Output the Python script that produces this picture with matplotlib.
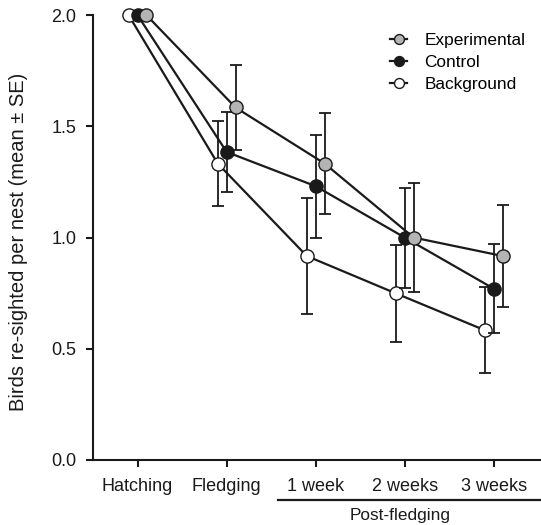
import numpy as np
import matplotlib
matplotlib.use("Agg")
import matplotlib.pyplot as plt

plt.rcParams["font.family"] = ["Liberation Sans", "DejaVu Sans"]

# ---------------------------------------------------------------------------
# Data
# ---------------------------------------------------------------------------
stages = ["Hatching", "Fledging", "1 week", "2 weeks", "3 weeks"]

exp_mean = [2.0, 1.585, 1.333, 1.0, 0.917]
exp_se   = [0.0, 0.19, 0.226, 0.246, 0.229]

ctrl_mean = [2.0, 1.385, 1.231, 1.0, 0.77]
ctrl_se   = [0.0, 0.18, 0.231, 0.225, 0.20]

bg_mean = [2.0, 1.333, 0.917, 0.749, 0.583]
bg_se   = [0.0, 0.19, 0.26, 0.217, 0.194]

ink = "#1a1a1a"
x = np.arange(len(stages))

fig = plt.figure(figsize=(5.41, 5.25), dpi=100)
ax = fig.add_axes([0.172, 0.124, 0.828, 0.847])

series = [
    ("Background",   bg_mean,   bg_se,   -0.1, "white"),
    ("Control",      ctrl_mean, ctrl_se,  0.0, ink),
    ("Experimental", exp_mean,  exp_se,   0.1, "#b4b4b4"),
]
handles = {}
for z, (name, m, se, off, fc) in enumerate(series):
    xs = x + off
    se = np.array(se)
    ax.errorbar(xs[1:], m[1:], yerr=se[1:], fmt="none", ecolor=ink,
                elinewidth=1.3, capsize=4.5, capthick=1.3, zorder=2 + z,
                clip_on=False)
    h, = ax.plot(xs, m, "-o", color=ink, lw=1.6, ms=9.5, mfc=fc, mec=ink,
                 mew=1.0, label=name, zorder=3 + z, clip_on=False)
    handles[name] = h

ax.set_xlim(-0.5, 4.53)
ax.set_ylim(0, 2.0)
ax.set_yticks([0, 0.5, 1.0, 1.5, 2.0])
ax.set_yticklabels(["0.0", "0.5", "1.0", "1.5", "2.0"])
ax.set_xticks(x)
ax.set_xticklabels(stages)
ax.tick_params(axis="both", direction="out", length=5, width=1.5,
               labelsize=13, color=ink, labelcolor=ink)
ax.tick_params(axis="y", pad=7)
ax.tick_params(axis="x", pad=8)
ax.spines["top"].set_visible(False)
ax.spines["right"].set_visible(False)
for s in ("left", "bottom"):
    ax.spines[s].set_linewidth(1.5)
    ax.spines[s].set_color(ink)

ax.set_ylabel("Birds re-sighted per nest (mean \u00b1 SE)", fontsize=14.5,
              color=ink)
ax.yaxis.set_label_coords(-0.145, 0.49)

# Post-fledging bracket under the axis
trans = ax.get_xaxis_transform()
ax.plot([1.58, 4.53], [-0.091, -0.091], transform=trans, color=ink, lw=1.6,
        clip_on=False)
ax.text(2.95, -0.126, "Post-fledging", transform=trans, ha="center",
        va="center", fontsize=12.4, color=ink)

leg = ax.legend([handles["Experimental"], handles["Control"], handles["Background"]],
                ["Experimental", "Control", "Background"],
                loc="upper right", bbox_to_anchor=(1.0, 0.995), frameon=False,
                fontsize=12.4, handlelength=1.0, handletextpad=1.0,
                labelspacing=0.4, markerscale=0.75)

fig.savefig("out.png", dpi=100)
